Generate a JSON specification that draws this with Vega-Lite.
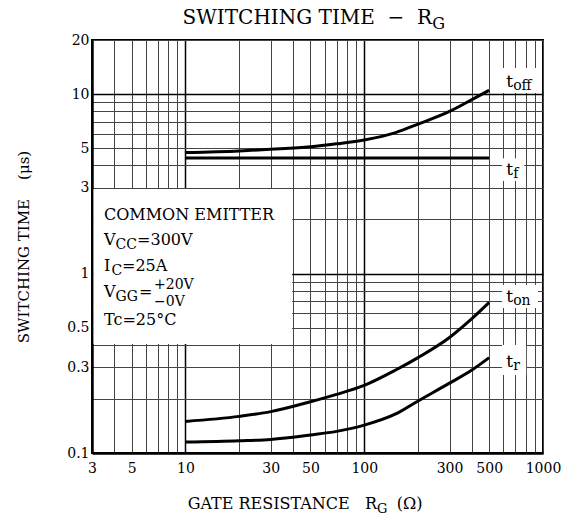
{
  "$schema": "https://vega.github.io/schema/vega-lite/v6.json",
  "width": 451,
  "height": 413,
  "autosize": {"type": "none"},
  "padding": {"left": 92, "top": 40, "right": 34, "bottom": 67},
  "background": "white",
  "config": {"view": {"stroke": "black", "strokeWidth": 2}, "font": "DejaVu Serif"},
  "datasets": {
    "curves": [
      {"s": "toff", "x": 10, "y": 4.72}, {"s": "toff", "x": 20, "y": 4.82}, {"s": "toff", "x": 30, "y": 4.92}, {"s": "toff", "x": 50, "y": 5.08}, {"s": "toff", "x": 70, "y": 5.28}, {"s": "toff", "x": 100, "y": 5.55}, {"s": "toff", "x": 150, "y": 6.1}, {"s": "toff", "x": 200, "y": 6.8}, {"s": "toff", "x": 300, "y": 8.0}, {"s": "toff", "x": 400, "y": 9.3}, {"s": "toff", "x": 500, "y": 10.5},
      {"s": "tf", "x": 10, "y": 4.4}, {"s": "tf", "x": 500, "y": 4.4},
      {"s": "ton", "x": 10, "y": 0.15}, {"s": "ton", "x": 20, "y": 0.16}, {"s": "ton", "x": 30, "y": 0.17}, {"s": "ton", "x": 50, "y": 0.193}, {"s": "ton", "x": 70, "y": 0.212}, {"s": "ton", "x": 100, "y": 0.238}, {"s": "ton", "x": 150, "y": 0.29}, {"s": "ton", "x": 200, "y": 0.34}, {"s": "ton", "x": 300, "y": 0.44}, {"s": "ton", "x": 400, "y": 0.56}, {"s": "ton", "x": 500, "y": 0.69},
      {"s": "tr", "x": 10, "y": 0.115}, {"s": "tr", "x": 20, "y": 0.117}, {"s": "tr", "x": 30, "y": 0.119}, {"s": "tr", "x": 50, "y": 0.126}, {"s": "tr", "x": 70, "y": 0.132}, {"s": "tr", "x": 100, "y": 0.143}, {"s": "tr", "x": 150, "y": 0.165}, {"s": "tr", "x": 200, "y": 0.195}, {"s": "tr", "x": 300, "y": 0.245}, {"s": "tr", "x": 400, "y": 0.29}, {"s": "tr", "x": 500, "y": 0.34}
    ],
    "boxes": [
      {"x": 3.06, "x2": 39.5, "y": 0.405, "y2": 2.96},
      {"x": 576, "x2": 928, "y": 10.13, "y2": 13.96},
      {"x": 590, "x2": 785, "y": 3.28, "y2": 4.38},
      {"x": 590, "x2": 939, "y": 0.643, "y2": 0.863},
      {"x": 590, "x2": 805, "y": 0.272, "y2": 0.40}
    ],
    "texts": [
      {"role": "ann", "x": 3.501, "y": 1.987, "text": "COMMON EMITTER"},
      {"role": "ann", "x": 3.501, "y": 1.442, "text": "V"},
      {"role": "ann", "x": 5.359, "y": 1.442, "text": "=300V"},
      {"role": "ann", "x": 3.501, "y": 1.0326, "text": "I"},
      {"role": "ann", "x": 4.417, "y": 1.0326, "text": "=25A"},
      {"role": "ann", "x": 3.501, "y": 0.74, "text": "V"},
      {"role": "ann", "x": 5.497, "y": 0.74, "text": "="},
      {"role": "ann", "x": 3.501, "y": 0.5168, "text": "Tc=25°C"},
      {"role": "stack", "x": 6.67, "y": 0.82, "text": "+20V"},
      {"role": "stack", "x": 6.67, "y": 0.6594, "text": "−0V"},
      {"role": "annsub", "x": 4.061, "y": 1.37, "text": "CC"},
      {"role": "annsub", "x": 3.857, "y": 0.981, "text": "C"},
      {"role": "annsub", "x": 4.061, "y": 0.703, "text": "GG"},
      {"role": "tlab", "x": 622, "y": 10.94, "text": "t"},
      {"role": "tlab", "x": 622, "y": 3.54, "text": "t"},
      {"role": "tlab", "x": 622, "y": 0.694, "text": "t"},
      {"role": "tlab", "x": 622, "y": 0.3016, "text": "t"},
      {"role": "tsub", "x": 681, "y": 10.53, "text": "off"},
      {"role": "tsub", "x": 681, "y": 3.405, "text": "f"},
      {"role": "tsub", "x": 681, "y": 0.668, "text": "on"},
      {"role": "tsub", "x": 681, "y": 0.29, "text": "r"},
      {"role": "title", "x": 239.8, "y": 24.57, "text": "SWITCHING TIME\u00a0\u00a0−\u00a0\u00a0R"},
      {"role": "titlesub", "x": 239.8, "y": 23.05, "text": "G"},
      {"role": "xt", "x": 118, "y": 0.04877, "text": "GATE RESISTANCE\u00a0\u00a0\u00a0R"},
      {"role": "xtsub", "x": 118, "y": 0.04634, "text": "G"},
      {"role": "xtl", "x": 152, "y": 0.04877, "text": "(Ω)"}
    ]
  },
  "encoding": {
    "x": {
      "field": "x", "type": "quantitative",
      "scale": {"type": "log", "domain": [3, 1000], "nice": false},
      "axis": {
        "values": [3, 4, 5, 6, 7, 8, 9, 10, 20, 30, 40, 50, 60, 70, 80, 90, 100, 200, 300, 400, 500, 600, 700, 800, 900, 1000],
        "labelExpr": "indexof([3,5,10,30,50,100,300,500,1000], datum.value) >= 0 ? datum.label : ''",
        "format": "~g",
        "grid": true,
        "gridColor": {"condition": {"test": "indexof([10,100], datum.value) >= 0", "value": "#000000"}, "value": "#444444"},
        "gridWidth": {"condition": {"test": "indexof([10,100], datum.value) >= 0", "value": 1.5}, "value": 1},
        "domain": true, "domainColor": "black", "domainWidth": 2.5,
        "ticks": false,
        "labelFont": "DejaVu Serif", "labelFontSize": 14, "labelColor": "black",
        "labelPadding": 8, "labelOverlap": false, "labelFlush": false,
        "title": null
      }
    },
    "y": {
      "field": "y", "type": "quantitative",
      "scale": {"type": "log", "domain": [0.1, 20], "nice": false},
      "axis": {
        "values": [0.1, 0.2, 0.3, 0.4, 0.5, 0.6, 0.7, 0.8, 0.9, 1, 2, 3, 4, 5, 6, 7, 8, 9, 10, 20],
        "labelExpr": "indexof([0.1,0.3,0.5,1,3,5,10,20], datum.value) >= 0 ? datum.label : ''",
        "format": "~g",
        "grid": true,
        "gridColor": {"condition": {"test": "indexof([1,10], datum.value) >= 0", "value": "#000000"}, "value": "#444444"},
        "gridWidth": {"condition": {"test": "indexof([1,10], datum.value) >= 0", "value": 1.5}, "value": 1},
        "domain": true, "domainColor": "black", "domainWidth": 2.5,
        "ticks": false,
        "labelFont": "DejaVu Serif", "labelFontSize": 14, "labelColor": "black",
        "labelPadding": 3, "labelOverlap": false, "labelFlush": false,
        "title": "SWITCHING TIME\u00a0\u00a0\u00a0\u00a0(μs)",
        "titleFont": "DejaVu Serif", "titleFontSize": 15, "titleFontWeight": "normal", "titleColor": "black",
        "titlePadding": 35
      }
    }
  },
  "layer": [
    {
      "data": {"name": "boxes"},
      "mark": {"type": "rect", "fill": "white"},
      "encoding": {"x2": {"field": "x2"}, "y2": {"field": "y2"}}
    },
    {
      "data": {"name": "curves"},
      "mark": {"type": "line", "color": "black", "strokeWidth": 3, "interpolate": "monotone"},
      "encoding": {"detail": {"field": "s"}}
    },
    {
      "data": {"name": "texts"},
      "transform": [{"filter": "datum.role === 'ann'"}],
      "mark": {"type": "text", "font": "DejaVu Serif", "fontSize": 16, "align": "left", "baseline": "alphabetic", "color": "black"},
      "encoding": {"text": {"field": "text"}}
    },
    {
      "data": {"name": "texts"},
      "transform": [{"filter": "datum.role === 'stack'"}],
      "mark": {"type": "text", "font": "DejaVu Serif", "fontSize": 14, "align": "left", "baseline": "alphabetic", "color": "black"},
      "encoding": {"text": {"field": "text"}}
    },
    {
      "data": {"name": "texts"},
      "transform": [{"filter": "datum.role === 'annsub'"}],
      "mark": {"type": "text", "font": "DejaVu Serif", "fontSize": 14, "align": "left", "baseline": "alphabetic", "color": "black"},
      "encoding": {"text": {"field": "text"}}
    },
    {
      "data": {"name": "texts"},
      "transform": [{"filter": "datum.role === 'tlab'"}],
      "mark": {"type": "text", "font": "DejaVu Serif", "fontSize": 17, "align": "left", "baseline": "alphabetic", "color": "black"},
      "encoding": {"text": {"field": "text"}}
    },
    {
      "data": {"name": "texts"},
      "transform": [{"filter": "datum.role === 'tsub'"}],
      "mark": {"type": "text", "font": "DejaVu Serif", "fontSize": 14, "align": "left", "baseline": "alphabetic", "color": "black"},
      "encoding": {"text": {"field": "text"}}
    },
    {
      "data": {"name": "texts"},
      "transform": [{"filter": "datum.role === 'title'"}],
      "mark": {"type": "text", "font": "DejaVu Serif", "fontSize": 20, "align": "right", "baseline": "alphabetic", "color": "black"},
      "encoding": {"text": {"field": "text"}}
    },
    {
      "data": {"name": "texts"},
      "transform": [{"filter": "datum.role === 'titlesub'"}],
      "mark": {"type": "text", "font": "DejaVu Serif", "fontSize": 16, "align": "left", "baseline": "alphabetic", "color": "black"},
      "encoding": {"text": {"field": "text"}}
    },
    {
      "data": {"name": "texts"},
      "transform": [{"filter": "datum.role === 'xt'"}],
      "mark": {"type": "text", "font": "DejaVu Serif", "fontSize": 16, "align": "right", "baseline": "alphabetic", "color": "black"},
      "encoding": {"text": {"field": "text"}}
    },
    {
      "data": {"name": "texts"},
      "transform": [{"filter": "datum.role === 'xtsub'"}],
      "mark": {"type": "text", "font": "DejaVu Serif", "fontSize": 13, "align": "left", "baseline": "alphabetic", "color": "black"},
      "encoding": {"text": {"field": "text"}}
    },
    {
      "data": {"name": "texts"},
      "transform": [{"filter": "datum.role === 'xtl'"}],
      "mark": {"type": "text", "font": "DejaVu Serif", "fontSize": 16, "align": "left", "baseline": "alphabetic", "color": "black"},
      "encoding": {"text": {"field": "text"}}
    }
  ]
}
